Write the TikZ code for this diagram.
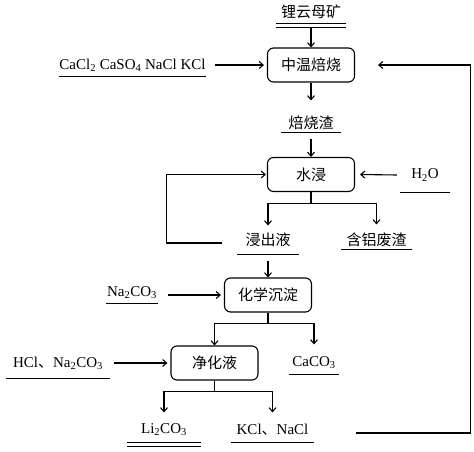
\documentclass[tikz,border=0pt]{standalone}
\usepackage{fontspec}
\setmainfont{Liberation Serif}
\newfontfamily\zh{Noto Sans CJK SC}
\usetikzlibrary{arrows.meta}

\begin{document}
\begin{tikzpicture}[x=1pt, y=-1pt, line width=1.1pt, font=\fontsize{15}{18}\selectfont,
  box/.style = {draw, rounded corners=6pt, minimum width=87pt, minimum height=34pt, font=\fontsize{15}{18}\selectfont\zh},
  lbl/.style = {inner sep=0pt, append after command={(\tikzlastnode.south west) edge (\tikzlastnode.south east)}},
  dlbl/.style = {lbl, append after command={([yshift=-4pt]\tikzlastnode.south west) edge ([yshift=-4pt]\tikzlastnode.south east)}},
  arr/.style = {-{Straight Barb[length=4pt,width=7pt]}}]
\useasboundingbox (0,0) rectangle (474,452);

% process steps
\node[box] (roast) at (311,65) {中温焙烧};
\node[box] (leach) at (311,174.5) {水浸};
\node[box] (precip) at (268,295) {化学沉淀};
\node[box] (purif) at (214.5,363) {净化液};

% materials
\node[dlbl, minimum width=68pt, minimum height=22pt] (ore) at (311,12) {\zh 锂云母矿};
\node[lbl, minimum width=143pt, minimum height=22pt] (salts) at (132.5,65) {CaCl\textsubscript{2} CaSO\textsubscript{4} NaCl KCl};
\node[lbl, minimum width=59pt, minimum height=18pt] (slag) at (311,123) {\zh 焙烧渣};
\node[lbl, minimum width=49pt, minimum height=34pt] (water) at (425,175) {H\textsubscript{2}O};
\node[lbl, minimum width=60pt, minimum height=28pt] (liquor) at (268,240) {\zh 浸出液};
\node[lbl, minimum width=69pt, minimum height=18pt] (alres) at (376.5,240) {\zh 含铝废渣};
\node[lbl, minimum width=50pt, minimum height=20pt] (soda) at (132,293) {Na\textsubscript{2}CO\textsubscript{3}};
\node[lbl, minimum width=49pt, minimum height=22pt] (caco) at (314,363) {CaCO\textsubscript{3}};
\node[lbl, minimum width=103pt, minimum height=30pt] (hcl) at (58,363) {HCl{\zh 、}Na\textsubscript{2}CO\textsubscript{3}};
\node[dlbl, minimum width=72pt, minimum height=24pt] (lico) at (164,430) {Li\textsubscript{2}CO\textsubscript{3}};
\node[lbl, minimum width=81pt, minimum height=24pt] (kcl) at (272.5,430) {KCl{\zh 、}NaCl};

\draw[arr] ([yshift=-4pt]ore.south) -- (roast.north);
\draw[arr] ([xshift=9pt]salts.east) -- ([xshift=-3pt]roast.west);
\draw[arr] (roast.south) -- ([yshift=13pt]slag.north);
\draw[arr] ([yshift=-6pt]slag.south) -- (leach.north);
\draw[arr] ([xshift=-3pt]water.west) -- ([xshift=5pt]leach.east);
\draw[arr] (leach.south) -- ++(0,11) -| (liquor.north);
\draw[arr] (leach.south) ++(0,11) -| ([yshift=6pt]alres.north);
\draw[arr] ([xshift=-15pt,yshift=-3pt]liquor.west) -- ++(-56,0) |- ([xshift=-1pt]leach.west);
\draw[arr] ([yshift=-6pt]liquor.south) -- (liquor.south |- precip.north);
\draw[arr] ([xshift=10pt]soda.east |- precip) -- ([xshift=-3pt]precip.west);
\draw[arr] (precip.south) -- ++(0,11) -| (purif.north);
\draw[arr] (precip.south) ++(0,11) -| ([yshift=7pt]caco.north);
\draw[arr] ([xshift=3.5pt]hcl.east) -- ([xshift=-3pt]purif.west);
\draw[arr] (purif.south) -- ++(0,11) -| ([yshift=5pt]lico.north);
\draw[arr] (purif.south) ++(0,11) -| ([yshift=5pt]kcl.north);
% recycle of chlorides
\draw[arr] ([xshift=42pt,yshift=-3pt]kcl.east) -- ++(115,0) |- ([xshift=23pt]roast.east);
\end{tikzpicture}
\end{document}
